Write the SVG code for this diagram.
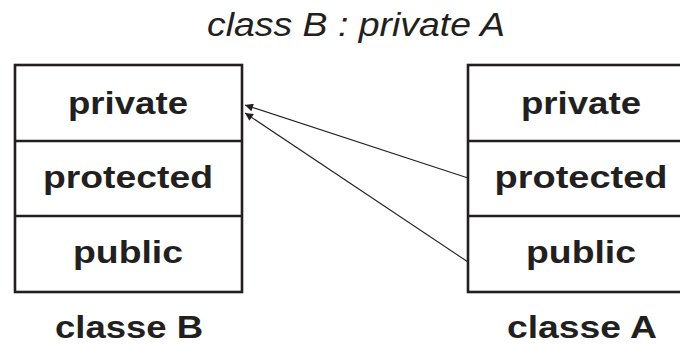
<svg xmlns="http://www.w3.org/2000/svg" width="680" height="346" viewBox="0 0 680 346">
<style>
.box{fill:#fff;stroke:#231f20;stroke-width:2.6}
.t{font-family:"Liberation Sans",Arial,sans-serif;font-weight:bold;font-size:32px;fill:#231f20;text-anchor:middle}
.title{font-family:"Liberation Sans",Arial,sans-serif;font-style:italic;font-size:33px;fill:#231f20;text-anchor:middle}
.c{stroke:#231f20;stroke-width:1.1;fill:none;marker-end:url(#ah)}
</style>
<defs>
<marker id="ah" viewBox="0 0 10 10" refX="10" refY="5" markerWidth="10" markerHeight="8" markerUnits="userSpaceOnUse" orient="auto">
<path d="M0,0 L10,5 L0,10 Z" fill="#231f20"/>
</marker>
</defs>
<rect width="680" height="346" fill="#fff"/>
<text class="title" x="356" y="36" textLength="298" lengthAdjust="spacingAndGlyphs">class B : private A</text>
<g id="classeB">
<rect class="box" x="15" y="65" width="227" height="227"/>
<line class="box" x1="15" y1="141" x2="242" y2="141"/>
<line class="box" x1="15" y1="216" x2="242" y2="216"/>
<text class="t" x="128" y="114" textLength="120" lengthAdjust="spacingAndGlyphs">private</text>
<text class="t" x="128" y="188" textLength="170" lengthAdjust="spacingAndGlyphs">protected</text>
<text class="t" x="128" y="263" textLength="110" lengthAdjust="spacingAndGlyphs">public</text>
<text class="t" x="129" y="338" textLength="148" lengthAdjust="spacingAndGlyphs">classe B</text>
</g>
<g id="classeA">
<rect class="box" x="468" y="65" width="226" height="227"/>
<line class="box" x1="468" y1="141" x2="694" y2="141"/>
<line class="box" x1="468" y1="216" x2="694" y2="216"/>
<text class="t" x="581" y="114" textLength="120" lengthAdjust="spacingAndGlyphs">private</text>
<text class="t" x="581" y="188" textLength="173" lengthAdjust="spacingAndGlyphs">protected</text>
<text class="t" x="581" y="263" textLength="110" lengthAdjust="spacingAndGlyphs">public</text>
<text class="t" x="582" y="338" textLength="150" lengthAdjust="spacingAndGlyphs">classe A</text>
</g>
<g id="connectors">
<line class="c" x1="468" y1="178" x2="245" y2="105"/>
<line class="c" x1="468" y1="262" x2="245" y2="113"/>
</g>
</svg>
